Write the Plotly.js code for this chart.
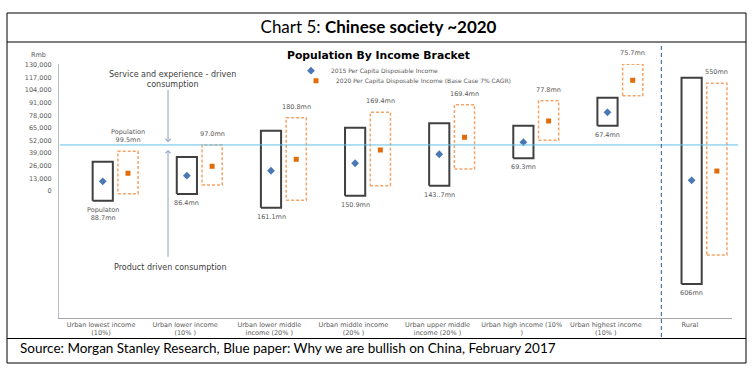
<!DOCTYPE html>
<html><head><meta charset="utf-8">
<script src="https://cdn.plot.ly/plotly-3.0.1.min.js"></script>
<style>html,body{margin:0;padding:0;background:#fff;}#chart{width:752px;height:370px;}</style>
</head><body><div id="chart"></div>
<script>
const categories = ["Urban lowest income<br>(10%)", "Urban lower income<br>(10% )", "Urban lower middle<br>income (20% )", "Urban middle income<br>(20% )", "Urban upper middle<br>income (20% )", "Urban high income (10%<br>)", "Urban highest income<br>(10% )", "Rural"];
const income2015 = [10000, 15800, 20900, 28600, 37900, 50300, 81200, 11000];
const low2015 = [-10000, -3100, -17200, -4900, 5500, 33700, 67400, -96000];
const high2015 = [30200, 35100, 62200, 65300, 69900, 67400, 96300, 116900];
const income2020 = [18300, 25500, 32700, 42300, 55400, 72200, 114200, 20600];
const low2020 = [-2800, 6200, -9600, 5500, 22700, 52300, 98300, -66000];
const high2020 = [41000, 47500, 75600, 81200, 89000, 93200, 130700, 111100];
const population2015 = ["Populaton<br>88.7mn", "86.4mn", "161.1mn", "150.9mn", "143..7mn", "69.3mn", "67.4mn", "606mn"];
const population2020 = ["Population<br>99.5mn", "97.0mn", "180.8mn", "169.4mn", "169.4mn", "77.8mn", "75.7mn", "550mn"];
const yTickValues = [0, 13000, 26000, 39000, 52000, 65000, 78000, 91000, 104000, 117000, 130000];
const yTickLabels = ["0", "13,000", "26,000", "39,000", "52,000", "65,000", "78,000", "91,000", "104,000", "117,000", "130,000"];
const consumptionThreshold = 47500;
const seriesNames = ["2015 Per Capita Disposable Income", "2020 Per Capita Disposable Income (Base Case 7% CAGR)"];

// layout helpers (pixel -> paper)
const PL = 59, PW = 673, PT = 64, PH = 254;
const px = v => (v - PL) / PW;
const py = v => (PT + PH - v) / PH;
const OFF15 = 0.02, OFF20 = 0.32, BW = 0.24;
const FONT = "DejaVu Sans";

function boxPath(lows, highs, off) {
  const xs = [], ys = [];
  lows.forEach((lo, i) => {
    const c = i + off, a = c - BW / 2, b = c + BW / 2;
    xs.push(a, b, b, a, a, null);
    ys.push(lo, lo, highs[i], highs[i], lo, null);
  });
  return {xs, ys};
}
const idx = categories.map((_, i) => i);
const b15 = boxPath(low2015, high2015, OFF15);
const b20 = boxPath(low2020, high2020, OFF20);

const traces = [
  {type: "scatter", mode: "lines", x: b15.xs, y: b15.ys, line: {color: "#404040", width: 2}, showlegend: false, hoverinfo: "skip"},
  {type: "scatter", mode: "lines", x: b20.xs, y: b20.ys, line: {color: "#F4A468", width: 1.5, dash: "3px,2px"}, showlegend: false, hoverinfo: "skip"},
  {type: "scatter", mode: "markers", name: seriesNames[0], x: idx.map(i => i + OFF15), y: income2015,
   marker: {symbol: "diamond", size: 6, color: "#4A78B5"}, legend: "legend"},
  {type: "scatter", mode: "markers", name: seriesNames[1], x: idx.map(i => i + OFF20), y: income2020,
   marker: {symbol: "square", size: 5, color: "#E36C09"}, legend: "legend2"}
];

const annotations = [];
population2015.forEach((t, i) => annotations.push({x: i + OFF15, y: low2015[i], xref: "x", yref: "y", text: t, showarrow: false,
  xanchor: "center", yanchor: "top", yshift: -3, font: {family: FONT, size: 6.5, color: "#595959"}}));
population2020.forEach((t, i) => annotations.push({x: i + OFF20, y: high2020[i], xref: "x", yref: "y", text: t, showarrow: false,
  xanchor: "center", yanchor: "bottom", yshift: 5, font: {family: FONT, size: 6.5, color: "#595959"}}));

annotations.push(
  {x: 0.85, y: 115000, xref: "x", yref: "y", text: "Service and experience - driven<br>consumption", showarrow: false,
   xanchor: "center", yanchor: "middle", font: {family: FONT, size: 8, color: "#404040"}},
  {x: 0.83, y: -79000, xref: "x", yref: "y", text: "Product driven consumption", showarrow: false,
   xanchor: "center", yanchor: "middle", font: {family: FONT, size: 8, color: "#404040"}},
  {x: 0.796, y: 50300, ax: 0.796, ay: 105900, xref: "x", yref: "y", axref: "x", ayref: "y", text: "", showarrow: true,
   arrowhead: 4, arrowsize: 1, arrowwidth: 1, arrowcolor: "#8FA2BC"},
  {x: 0.796, y: 42300, ax: 0.796, ay: -69400, xref: "x", yref: "y", axref: "x", ayref: "y", text: "", showarrow: true,
   arrowhead: 4, arrowsize: 1, arrowwidth: 1, arrowcolor: "#8FA2BC"},
  {x: px(378), y: py(55), xref: "paper", yref: "paper", text: "<b>Population By Income Bracket</b>", showarrow: false,
   xanchor: "center", yanchor: "middle", font: {family: FONT, size: 10.8, color: "#000"}},
  {x: px(38.5), y: py(55), xref: "paper", yref: "paper", text: "Rmb", showarrow: false,
   xanchor: "center", yanchor: "middle", font: {family: FONT, size: 6.5, color: "#595959"}},
  {x: px(18), y: py(348), xref: "paper", yref: "paper", xanchor: "left", yanchor: "middle",
   text: "Source: Morgan Stanley Research, Blue paper: Why we are bullish on China, February 2017", showarrow: false,
   font: {family: "Lato", size: 13.5, color: "#000"}}
);

const shapes = [
  {type: "rect", xref: "paper", yref: "paper", x0: px(7), x1: px(746), y0: py(363), y1: py(13), line: {color: "#000", width: 1}},
  {type: "line", xref: "paper", yref: "paper", x0: px(7), x1: px(746), y0: py(42), y1: py(42), line: {color: "#000", width: 1}},
  {type: "line", xref: "paper", yref: "paper", x0: px(7), x1: px(746), y0: py(338.5), y1: py(338.5), line: {color: "#000", width: 1}},
  {type: "line", xref: "paper", yref: "y", x0: px(60), x1: px(738), y0: consumptionThreshold, y1: consumptionThreshold, line: {color: "#63C2EA", width: 1}},
  {type: "line", xref: "x", yref: "paper", x0: 6.66, x1: 6.66, y0: py(337), y1: py(44), line: {color: "#2F5597", width: 1, dash: "4px,3px"}}
];

const layout = {
  width: 752, height: 370,
  margin: {l: PL, r: 752 - PL - PW, t: PT, b: 370 - PT - PH},
  paper_bgcolor: "#fff", plot_bgcolor: "#fff",
  font: {family: FONT, size: 7, color: "#595959"},
  title: {text: "Chart 5: <b>Chinese society ~2020</b>", font: {family: "Lato", size: 17, color: "#000"},
          x: 378.5 / 752, xanchor: "center", y: 1 - 27 / 370, yanchor: "middle", xref: "container", yref: "container"},
  xaxis: {range: [-0.5, 7.5], tickvals: idx, ticktext: categories, showgrid: false, zeroline: false,
          showline: true, linecolor: "#A6A6A6", linewidth: 1, ticks: "", ticklabelstandoff: 0,
          tickfont: {family: FONT, size: 6.5, color: "#595959"}, fixedrange: true},
  yaxis: {range: [-131000, 131000], tickvals: yTickValues, ticktext: yTickLabels, showgrid: false, zeroline: false,
          showline: true, linecolor: "#B4BCC8", linewidth: 1, ticks: "", ticklabelstandoff: 5,
          tickfont: {family: FONT, size: 6.5, color: "#595959"}, fixedrange: true},
  showlegend: true,
  legend: {x: px(291), y: py(70.7), xanchor: "left", yanchor: "middle", bgcolor: "rgba(0,0,0,0)", borderwidth: 0,
           font: {family: FONT, size: 6, color: "#595959"}},
  legend2: {x: px(296), y: py(80.7), xanchor: "left", yanchor: "middle", bgcolor: "rgba(0,0,0,0)", borderwidth: 0,
           font: {family: FONT, size: 6, color: "#595959"}},
  annotations, shapes
};
Plotly.newPlot("chart", traces, layout, {displayModeBar: false, staticPlot: true});
</script></body></html>
